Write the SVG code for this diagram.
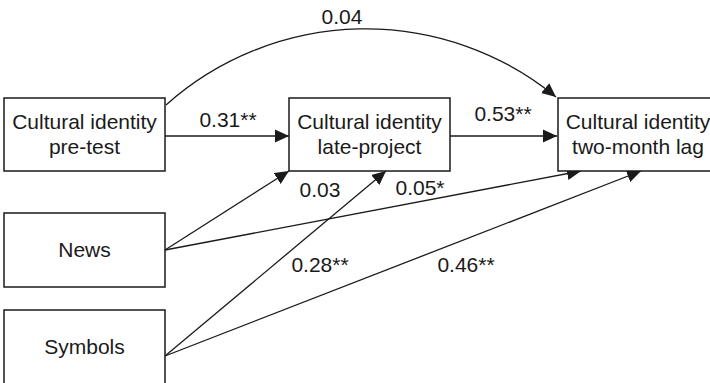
<svg xmlns="http://www.w3.org/2000/svg" width="710" height="383" viewBox="0 0 710 383">
<style>
.box{fill:#fff;stroke:#1a1a1a;stroke-width:1.5}
.t{font-family:"Liberation Sans",Arial,sans-serif;font-size:21px;fill:#1a1a1a;text-anchor:middle}
.c{fill:none;stroke:#1a1a1a;stroke-width:1.3;marker-end:url(#ah)}
</style>
<defs>
<marker id="ah" markerUnits="userSpaceOnUse" markerWidth="14" markerHeight="14" viewBox="0 0 12 12" refX="12" refY="6" orient="auto">
<path d="M0,0.5 L12,6 L0,11.5 Z" fill="#1a1a1a"/>
</marker>
</defs>
<rect width="710" height="383" fill="#fff"/>
<g id="connectors">
<path class="c" d="M166,105 A300,300 0 0 1 556,97"/>
<line class="c" x1="165" y1="136" x2="289" y2="136"/>
<line class="c" x1="450" y1="136" x2="557" y2="136"/>
<line class="c" x1="165" y1="250" x2="289" y2="171"/>
<line class="c" x1="165" y1="250" x2="581" y2="171"/>
<line class="c" x1="165" y1="356" x2="386" y2="171"/>
<line class="c" x1="165" y1="356" x2="641" y2="171"/>
</g>
<g id="labels">
<text class="t" x="342" y="24">0.04</text>
<text class="t" x="228" y="127">0.31**</text>
<text class="t" x="503" y="121">0.53**</text>
<text class="t" x="320" y="197">0.03</text>
<text class="t" x="420" y="195">0.05*</text>
<text class="t" x="320" y="272">0.28**</text>
<text class="t" x="466" y="272">0.46**</text>
</g>
<g id="pretest">
<rect class="box" x="4" y="98" width="161" height="73"/>
<text class="t" x="84.5" y="129">Cultural identity</text>
<text class="t" x="84.5" y="154">pre-test</text>
</g>
<g id="lateproject">
<rect class="box" x="289" y="98" width="161" height="73"/>
<text class="t" x="369.5" y="129">Cultural identity</text>
<text class="t" x="369.5" y="154">late-project</text>
</g>
<g id="twomonth">
<rect class="box" x="558" y="98" width="161" height="73"/>
<text class="t" x="638" y="129">Cultural identity</text>
<text class="t" x="638" y="154">two-month lag</text>
</g>
<g id="news">
<rect class="box" x="4" y="213" width="161" height="74"/>
<text class="t" x="84.5" y="257">News</text>
</g>
<g id="symbols">
<rect class="box" x="4" y="310" width="161" height="92"/>
<text class="t" x="84.5" y="354">Symbols</text>
</g>
</svg>
